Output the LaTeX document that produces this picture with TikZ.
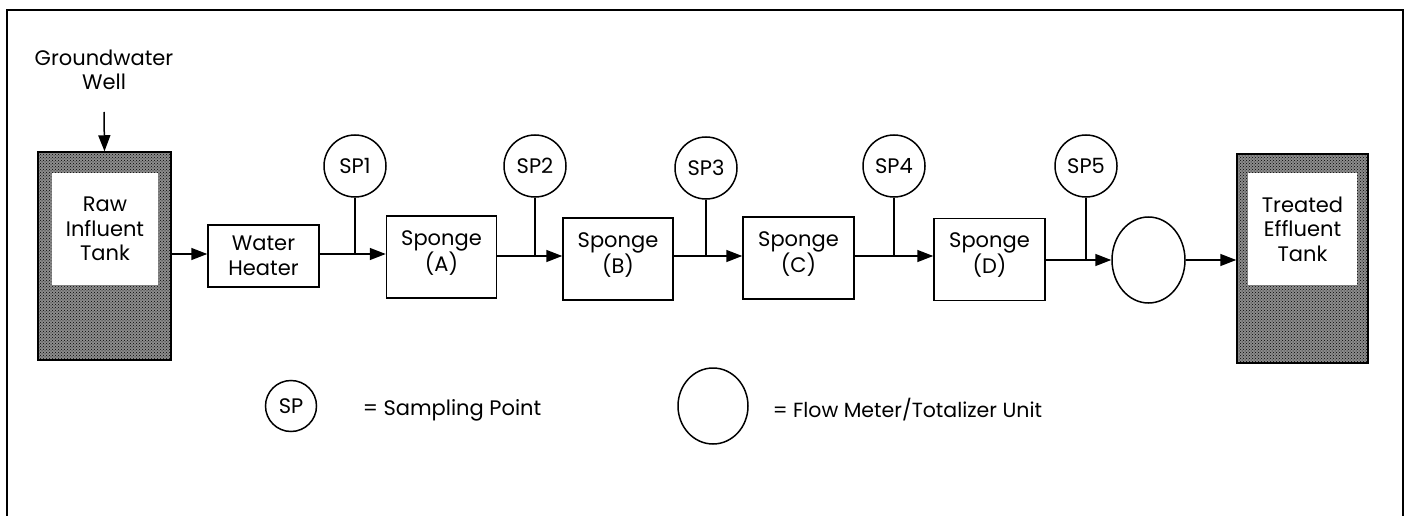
\documentclass[tikz,border=0pt]{standalone}
\usepackage{fontspec}
\setmainfont{Poppins}
\usetikzlibrary{arrows.meta,shapes.geometric,patterns}
\begin{document}
\begin{tikzpicture}[x=1pt,y=-1pt,
  every node/.style={font=\fontsize{21}{24.5}\selectfont, align=center, inner sep=0pt, line width=1.5pt},
  ln/.style={line width=1.5pt},
  arr/.style={line width=1.5pt, -{Triangle[length=16pt,width=12pt]}},
  tank/.style={draw, preaction={fill=black!45}, pattern=crosshatch dots, pattern color=black},
  inner/.style={fill=white, minimum width=106pt, minimum height=112pt},
  box/.style={draw, minimum height=82pt, minimum width=110pt},
  spc/.style={draw, circle, minimum size=62pt},
  meter/.style={draw, ellipse, minimum width=73pt, minimum height=86pt}
]
\useasboundingbox (0,0) rectangle (1408,516);
% frame
\coordinate (f1) at (7,540);
\coordinate (f2) at (7,10);
\coordinate (f3) at (1403,10);
\coordinate (f4) at (1403,540);
\draw[line width=1.8pt] (f1) -- (f2) -- (f3) -- (f4);

% source
\node (gw) at (104,70) {Groundwater\\Well};
\node[tank, minimum width=133pt, minimum height=208pt] (raw) at (104.5,256) {};
\node[inner] (rawin) at (105,229) {Raw\\Influent\\Tank};
\coordinate (gwtop) at (104,112);
\draw[arr] (gwtop) -- (raw.north);

% units
\node[box, minimum width=111pt, minimum height=62pt] (wh) at (263.5,256) {Water\\Heater};
\node[box] (sa) at (441.5,257) {};
\node[box] (sb) at (618,259) {};
\node[box, minimum width=111pt] (sc) at (798.5,258) {};
\node[box, minimum width=111pt] (sd) at (989.5,259.5) {};
\node (sat) at (441.5,253) {Sponge\\(A)};
\node (sbt) at (618,255) {Sponge\\(B)};
\node (sct) at (798.5,254) {Sponge\\(C)};
\node (sdt) at (989.5,255) {Sponge\\(D)};
\node[meter] (fm) at (1148.5,260) {};
\node[tank, minimum width=131pt, minimum height=209pt] (tr) at (1302.5,258.5) {};
\node[inner, minimum width=109pt] (trin) at (1302.5,229) {Treated\\Effluent\\Tank};

% sampling points
\node[spc] (sp1) at (355,166) {SP1};
\node[spc] (sp2) at (535,166) {SP2};
\node[spc] (sp3) at (706,168) {SP3};
\node[spc] (sp4) at (894,166) {SP4};
\node[spc] (sp5) at (1086,166) {SP5};

% flow line
\coordinate (y0) at (0,254);
\coordinate (y1) at (0,256);
\draw[arr] (raw.east |- y0) -- (wh.west |- y0);
\draw[arr] (wh.east |- y0) -- (sa.west |- y0);
\draw[arr] (sa.east |- y1) -- (sb.west |- y1);
\draw[arr] (sb.east |- y1) -- (sc.west |- y1);
\draw[arr] (sc.east |- y1) -- (sd.west |- y1);
\draw[arr] (sd.east |- fm.west) -- (fm.west);
\draw[arr] (fm.east) -- (tr.west |- fm.east);

% sampling taps
\draw[ln] (sp1.south) -- (sp1.south |- y0);
\draw[ln] (sp2.south) -- (sp2.south |- y1);
\draw[ln] (sp3.south) -- (sp3.south |- y1);
\draw[ln] (sp4.south) -- (sp4.south |- y1);
\draw[ln] (sp5.south) -- (sp5.south |- fm.west);

% legend
\node[draw, circle, minimum size=51pt] (lsp) at (291,406) {SP};
\node[anchor=west] (lspt) at (362,410) {= Sampling Point};
\node[draw, ellipse, minimum width=70pt, minimum height=76pt] (lfm) at (713,406) {};
\node[anchor=west, font=\fontsize{20.5}{24.5}\selectfont] (lfmt) at (772,410) {= Flow Meter/Totalizer Unit};
\end{tikzpicture}
\end{document}
